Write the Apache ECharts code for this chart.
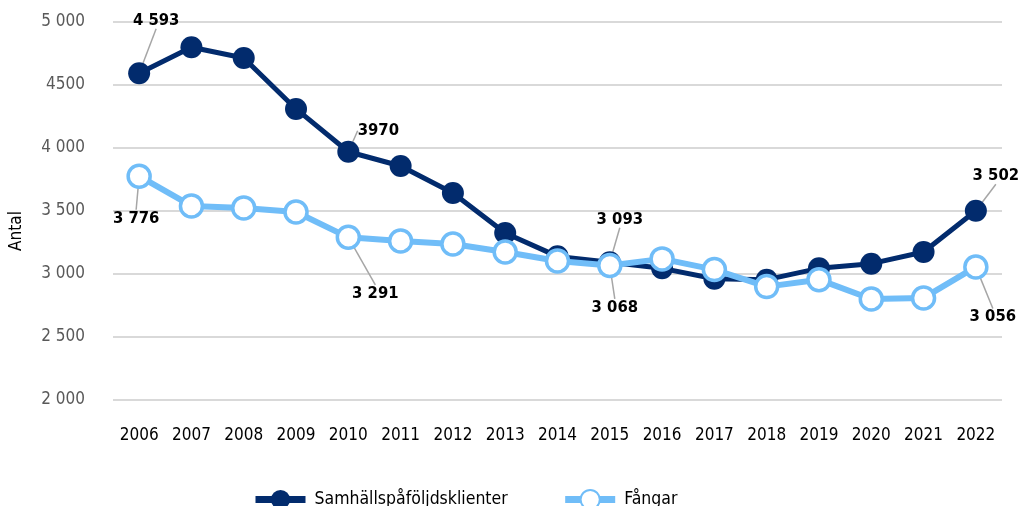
<!DOCTYPE html>
<html>
<head>
<meta charset="utf-8">
<script src="https://cdn.jsdelivr.net/npm/echarts@6/dist/echarts.min.js"></script>
<style>
  html, body { margin: 0; padding: 0; background: #fff; }
  #chart { width: 1018px; height: 506px; }
</style>
</head>
<body>
<div id="chart"></div>
<script>
// data
var years = ['2006', '2007', '2008', '2009', '2010', '2011', '2012', '2013', '2014',
  '2015', '2016', '2017', '2018', '2019', '2020', '2021', '2022'];
var klienter = [4593, 4800, 4714, 4310, 3970, 3857, 3643, 3325, 3140,
  3093, 3045, 2962, 2955, 3045, 3082, 3175, 3502];
var fangar = [3776, 3540, 3524, 3492, 3291, 3262, 3238, 3175, 3103,
  3068, 3120, 3035, 2900, 2955, 2802, 2810, 3056];
var yTickLabels = ['2 000', '2 500', '3 000', '3 500', '4 000', '4500', '5 000'];
// labelled points: index -> text
var klienterLabels = { 0: '4 593', 4: '3970', 9: '3 093', 16: '3 502' };
var fangarLabels = { 0: '3 776', 4: '3 291', 9: '3 068', 16: '3 056' };

var FONT = "'DejaVu Sans Condensed', 'DejaVu Sans', sans-serif";
var DARK = '#022b6d';
var LIGHT = '#70bdf8';

// label offsets from the point (dx, dy)
var labelOffsets = [
  { 0: [17, -53], 4: [30, -21], 9: [10, -43], 16: [20, -35] },
  { 0: [-3, 42], 4: [27, 56], 9: [5, 42], 16: [17, 50] }
];

function buildData(values, labels) {
  return values.map(function (v, i) {
    if (labels[i] === undefined) return v;
    return {
      value: v,
      label: { show: true, formatter: labels[i] },
      labelLine: { show: true, lineStyle: { color: '#a6a6a6', width: 1.5 } }
    };
  });
}

var chart = echarts.init(document.getElementById('chart'));
var option = {
  backgroundColor: '#fff',
  animation: false,
  grid: { left: 112, right: 16, top: 22, bottom: 106 },
  legend: {
    left: 247,
    top: 484,
    itemWidth: 50,
    itemHeight: 24,
    itemGap: 54,
    textStyle: { fontFamily: FONT, fontSize: 17.5, color: '#000', padding: [0, 0, 0, 4] },
    data: [
      { name: 'Samhällspåföljdsklienter', lineStyle: { width: 7 } },
      { name: 'Fångar', lineStyle: { width: 7 } }
    ]
  },
  xAxis: {
    type: 'category',
    data: years,
    axisLine: { show: false },
    axisTick: { show: false },
    axisLabel: { fontFamily: FONT, fontSize: 17, color: '#000', margin: 27, interval: 0 }
  },
  yAxis: {
    type: 'value',
    min: 2000,
    max: 5000,
    interval: 500,
    name: 'Antal',
    nameLocation: 'middle',
    nameGap: 88,
    nameTextStyle: { fontFamily: FONT, fontSize: 17, color: '#000', padding: [0, 40, 0, 0] },
    axisLine: { show: false },
    axisTick: { show: false },
    splitLine: { lineStyle: { color: '#d9d9d9', width: 2 } },
    axisLabel: {
      fontFamily: FONT, fontSize: 17, color: '#595959', margin: 28,
      formatter: function (v) { return yTickLabels[(v - 2000) / 500]; }
    }
  },
  series: [
    {
      name: 'Samhällspåföljdsklienter',
      type: 'line',
      data: buildData(klienter, klienterLabels),
      symbol: 'circle',
      symbolSize: 22,
      color: DARK,
      lineStyle: { color: DARK, width: 5 },
      itemStyle: { color: DARK },
      label: { position: 'inside', fontFamily: FONT, fontSize: 16.5, fontWeight: 'bold', color: '#000' },
      labelLayout: function (p) {
        var o = labelOffsets[0][p.dataIndex];
        return o ? { dx: o[0], dy: o[1] } : {};
      },
      z: 2
    },
    {
      name: 'Fångar',
      type: 'line',
      data: buildData(fangar, fangarLabels),
      symbol: 'circle',
      symbolSize: 22,
      color: LIGHT,
      lineStyle: { color: LIGHT, width: 6 },
      itemStyle: { color: '#fff', borderColor: LIGHT, borderWidth: 3.5 },
      label: { position: 'inside', fontFamily: FONT, fontSize: 16.5, fontWeight: 'bold', color: '#000' },
      labelLayout: function (p) {
        var o = labelOffsets[1][p.dataIndex];
        return o ? { dx: o[0], dy: o[1] } : {};
      },
      z: 3
    }
  ]
};
chart.setOption(option);
</script>
</body>
</html>
